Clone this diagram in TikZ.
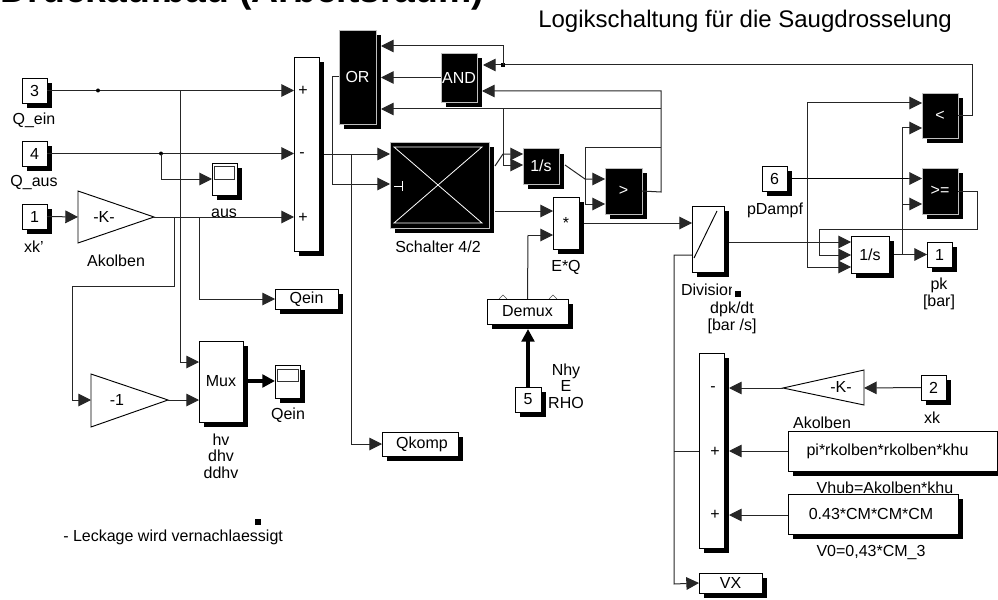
\documentclass[tikz,border=0pt]{standalone}
\usepackage{fontspec}
\setmainfont{Liberation Sans}
\usetikzlibrary{arrows.meta,shadows,calc}
\tikzset{
  x=0.75pt,y=-0.75pt,
  lab/.style={font=\fontsize{12}{12.4}\selectfont,inner sep=0,align=center},
  blk/.style={draw=black,fill=white,line width=0.7pt,inner sep=0,outer sep=0,
     font=\fontsize{12}{12.4}\selectfont,
     general shadow={fill=black,shadow xshift=3.75pt,shadow yshift=-3.75pt}},
  dark/.style={fill=black,draw=black!25,text=white},
  wire/.style={draw=black!85,line width=0.75pt},
  sig/.style={wire,-{Triangle[length=9.5pt,width=9.5pt]}},
  thicksig/.style={draw=black,line width=2.4pt,-{Triangle[length=9.5pt,width=9.5pt]}},
  gainshape/.style={draw=black,fill=white,line width=0.7pt},
  junc/.style={circle,fill=black,inner sep=0,minimum size=3pt},
  blot/.style={fill=black,inner sep=0,minimum size=4.5pt},
}
\newcommand{\blockat}[7][]{%
  \node[blk,#1,minimum width={(#5-#3)*0.75pt},minimum height={(#6-#4)*0.75pt}] (#2) at ({(#3+#5)/2},{(#4+#6)/2}) {#7};}
\begin{document}
\begin{tikzpicture}
\useasboundingbox (0,0) rectangle (998,599);
\clip (0,0) rectangle (998,599);
% titles
\node[anchor=base west,inner sep=0,font=\fontsize{28}{30}\selectfont\bfseries] (title) at (0.5,3) {Druckaufbau (Arbeitsraum)};
\node[anchor=base west,inner sep=0,font=\fontsize{18}{20}\selectfont] (subtitle) at (538,28) {Logikschaltung für die Saugdrosselung};
% input ports
\blockat{in3}{22}{78}{47}{103}{3}
\blockat{in4}{22}{141}{47}{166}{4}
\blockat{in1}{22}{204}{47}{229}{1}
\blockat{in5}{515}{387}{541}{412}{5}
\blockat{in6}{762}{166}{787}{191}{6}
\blockat{in2}{921}{375}{946}{400}{2}
\blockat{out1}{927}{242}{952}{267}{1}
% gains
\draw[gainshape] (78,191) -- (154,217) -- (78,243) -- cycle;
\node[lab] (gainA) at (104,217) {-K-};
\coordinate (gainAin) at (78,217); \coordinate (gainAout) at (154,217);
\draw[gainshape] (91,374) -- (168,400) -- (91,427) -- cycle;
\node[lab] (gainN) at (117,400) {-1};
\coordinate (gainNin) at (91,400); \coordinate (gainNout) at (168,400);
\draw[gainshape] (864,370) -- (783,388) -- (864,405) -- cycle;
\node[lab] (gainB) at (841,387) {-K-};
\coordinate (gainBin) at (864,388); \coordinate (gainBout) at (783,388);
% sums
\blockat{sumA}{294}{57}{319}{251}{}
\node[lab] (sa1) at (303,91) {+};
\node[lab] (sa2) at (302,155) {-};
\node[lab] (sa3) at (303,218) {+};
\blockat{sumB}{699}{353}{724}{548}{}
\node[lab] (sb1) at (713,389) {-};
\node[lab] (sb2) at (715,452) {+};
\node[lab] (sb3) at (715,515) {+};
% scopes
\blockat{scopeA}{212}{163}{237}{195}{}
\draw[line width=0.7pt,draw=black!80] (214,166) rectangle (234,179);
\blockat{scopeB}{275}{365}{300}{398}{}
\draw[line width=0.7pt,draw=black!80] (277,369) rectangle (298,381);
% mux, demux, mult
\blockat{mux}{199}{341}{243}{422}{Mux}
\blockat{demux}{487}{299}{568}{324}{Demux}
\draw[line width=0.5pt,draw=black!70] (499,299) -- (503,295) -- (507,299) (549,299) -- (553,295) -- (557,299);
\blockat{mult}{553}{197}{579}{249}{*}
% dark logic
\blockat[dark]{or}{339}{30}{376}{124}{OR}
\blockat[dark]{and}{441}{53}{477}{102}{AND}
\blockat[dark]{intB}{523}{148.5}{559}{184}{1/s}
\blockat[dark]{gt}{605}{168}{642}{214}{>}
\blockat[dark]{lt}{922}{93}{958}{138}{<}
\blockat[dark]{ge}{922}{168}{958}{214}{>=}
\blockat[dark]{switch}{390}{142}{489}{228}{}
\draw[white,line width=0.6pt] (394,147) -- (482,147) -- (394,223) -- (482,223) -- cycle;
\draw[white,line width=0.6pt] (394,186) -- (402,186) (402,181) -- (402,191);
% division, integrator
\blockat{div}{692}{206}{724}{272}{}
\draw[line width=0.7pt] (694,258) -- (717,211);
\blockat{intA}{851}{236}{889}{273}{1/s}
% gotos
\blockat{gQein}{275}{289}{338}{309}{Qein}
\blockat{gQkomp}{382}{432}{458}{456}{\kern3pt Qkomp}
\blockat{gVX}{699}{573}{762}{593}{VX}
% constants
\blockat{constA}{788}{431}{997}{471}{pi*rkolben*rkolben*khu\kern7.5pt}
\node[lab] (lVhub) at (885,488) {Vhub=Akolben*khu};
\blockat{constB}{788}{494}{958}{534}{0.43*CM*CM*CM\kern3pt}
% labels
\node[lab] at (34,120) {Q\_ein};
\node[lab] at (34,183) {Q\_aus};
\node[lab] at (34,247) {xk'};
\node[lab] at (116,261) {Akolben};
\node[lab] at (224,213) {aus};
\node[lab] at (288,415) {Qein};
\node[lab] at (221,456) {hv\\dhv\\ddhv};
\node[lab] at (438,247) {Schalter 4/2};
\node[lab] at (566,267) {E*Q};
\node[lab] at (566,386) {Nhy\\E\\RHO};
\node[lab] at (775,210) {pDampf};
\begin{scope}
  \clip (670,275) rectangle (731,305);
  \node[lab] at (709,290) {Division};
\end{scope}
\node[blot] at (738,294) {};
\node[lab] at (732,318) {dpk/dt\\{[bar /s]}};
\node[lab] at (939,294) {pk\\{[bar]}};
\node[lab] at (932,418) {xk};
\node[lab] at (822,423) {Akolben};
\node[lab] at (871,552) {V0=0,43*CM\_3};
\node[lab,anchor=west] at (63,537) {- Leckage wird vernachlaessigt};
\node[blot] at (258,522) {};
% junction coordinates
\coordinate (jA) at (98,90.5);
\coordinate (jB) at (180,90.5);
\coordinate (jC) at (161,153.5);
\coordinate (jD) at (174,217);
\coordinate (jE) at (199,217);
\coordinate (jF) at (351,154);
\coordinate (jG) at (503,65);
\coordinate (jH) at (503,109);
\coordinate (jI) at (661,109);
\coordinate (jJ) at (661,148);
\coordinate (jK) at (661,192);
\coordinate (jL) at (585,148);
\coordinate (jM) at (585,179);
\coordinate (jN) at (807,178.5);
\coordinate (jO) at (902,254.5);
\coordinate (jP) at (674,451);
% left wires
\draw[sig] (in3.east) -- (in3.east -| sumA.west);
\node[junc] at (jA) {};
\draw[sig] (jB) -- (180,362) -- (180,362 -| mux.west);
\draw[sig] (in4.east) -- (in4.east -| sumA.west);
\node[junc] at (jC) {};
\draw[sig] (jC) |- (scopeA.west);
\draw[sig] (in1.east) -- (gainAin);
\draw[sig] (gainAout) -- (gainAout -| sumA.west);
\draw[sig] (jD) -- (174,286) -- (72,286) -- (72,400) -- (gainNin);
\draw[sig] (jE) |- (gQein.west);
\draw[sig] (gainNout) -- (gainNout -| mux.west);
\draw[thicksig] (248,381) -- (scopeB.west |- 0,381);
% centre
\draw[sig] (sumA.east |- 0,154) ++(5,0) -- (switch.west |- 0,154);
\draw[sig] (jF) |- (gQkomp.west);
\draw[sig] (or.west) -- (332,77) -- (332,184) -- (switch.west |- 0,184);
\draw[wire] (lt.east) -- (972,115.5) -- (972,65) -- (jG);
\draw[sig] (jG) -- (483,65);
\node[rectangle,fill=black,inner sep=0,minimum size=3pt] at (jG) {};
\draw[sig] (jG) -- (503,46) -- (381,46);
\draw[sig] (and.west) -- (and.west -| 381,0);
\draw[wire] (gt.east) -- (jK) -- (661,91) -- (483,91);
\draw[sig] (490,91) -- (482,91);
\draw[sig] (jI) -- (381,109);
\draw[wire] (jJ) -- (jL);
\draw[sig] (jL) -- (585,204) -- (gt.west |- 0,204);
\draw[sig] (jH) -- (503,165) -- (intB.west |- 0,165);
\draw[sig] (495,166) -- (503,154) -- (intB.west |- 0,154);
\draw[sig] (565,165) -- (jM) -- (gt.west |- 0,179);
\draw[sig] (495,211) -- (mult.west |- 0,211);
\draw[wire] (demux.north) -- (528,235);
\draw[sig] (528,235) -- (mult.west |- 0,235);
\draw[thicksig] (in5.north) -- (528,329);
% right
\draw[sig] (584,223) -- (div.west |- 0,223);
\draw[sig] (729,242) -- (intA.west |- 0,242);
\draw[sig] (div.west |- 0,255) -- (674,255) -- (674,584) -- (gVX.west);
\draw[wire] (sumB.west |- jP) -- (jP);
\draw[sig] (894,254.5) -- (out1.west);
\draw[sig] (jO) -- (902,128) -- (lt.west |- 0,128);
\draw[sig] (902,204) -- (ge.west |- 0,204);
\draw[draw=black,line width=1.2pt] (in6.east) -- (908,178.5);
\draw[sig] (908,178.5) -- (ge.west |- 0,178.5);
\draw[sig] (jN) -- (807,103) -- (lt.west |- 0,103);
\draw[sig] (jN) -- (807,267) -- (intA.west |- 0,267);
\draw[sig] (ge.east) -- (977,191) -- (977,229) -- (819,229) -- (819,255) -- (intA.west |- 0,255);
\draw[sig] (in2.west) -- (gainBin);
\draw[sig] (gainBout) -- (729,388);
\draw[sig] (constA.west) -- (729,451);
\draw[sig] (constB.west |- 0,515) -- (729,515);
\end{tikzpicture}
\end{document}
